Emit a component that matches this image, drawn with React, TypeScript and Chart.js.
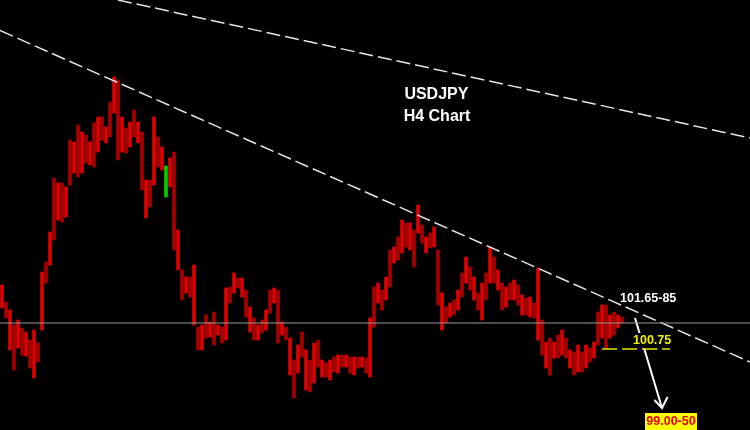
import React, { useEffect, useRef } from "react";
import { Chart, registerables } from "chart.js";

Chart.register(...registerables);

// H4 bars: high / low prices, one per bar (bar index = position)
const highs = [
  102.15, 101.98, 101.90, 101.75, 101.80, 101.72, 101.68, 101.60, 101.70, 101.57,
  102.28, 102.38, 102.68, 103.22, 103.17, 103.17, 103.13, 103.60, 103.58, 103.75,
  103.68, 103.65, 103.58, 103.77, 103.83, 103.83, 103.73, 103.98, 104.23, 104.20,
  103.83, 103.72, 103.78, 103.90, 103.78, 103.68, 103.20, 103.20, 103.83, 103.63,
  103.53, 103.34, 103.42, 103.48, 102.70, 102.30, 102.23, 102.23, 102.35, 101.73,
  101.75, 101.85, 101.78, 101.88, 101.75, 101.73, 102.12, 102.13, 102.27, 102.22,
  102.22, 102.10, 101.93, 101.82, 101.75, 101.80, 101.90, 102.10, 102.12, 102.10,
  101.78, 101.73, 101.62, 101.40, 101.55, 101.68, 101.50, 101.40, 101.57, 101.60,
  101.40, 101.37, 101.40, 101.43, 101.45, 101.45, 101.45, 101.43, 101.43, 101.43,
  101.43, 101.42, 101.82, 102.13, 102.17, 102.10, 102.23, 102.50, 102.53, 102.63,
  102.80, 102.77, 102.77, 102.70, 102.95, 102.75, 102.63, 102.67, 102.73, 102.50,
  102.07, 101.93, 101.97, 102.00, 102.10, 102.27, 102.43, 102.33, 102.23, 102.07,
  102.17, 102.27, 102.53, 102.43, 102.30, 102.17, 102.13, 102.17, 102.20, 102.15,
  102.05, 102.02, 102.03, 101.97, 102.32, 101.80, 101.58, 101.62, 101.58, 101.65,
  101.70, 101.62, 101.50, 101.48, 101.55, 101.48, 101.55, 101.52, 101.58, 101.88,
  101.95, 101.95, 101.85, 101.88, 101.85, 101.83,
];
const lows = [
  101.92, 101.82, 101.50, 101.30, 101.52, 101.45, 101.44, 101.32, 101.22, 101.38,
  101.70, 102.17, 102.35, 102.60, 102.80, 102.78, 102.83, 103.15, 103.27, 103.23,
  103.27, 103.37, 103.35, 103.33, 103.48, 103.60, 103.57, 103.63, 103.87, 103.40,
  103.48, 103.47, 103.53, 103.63, 103.57, 103.10, 102.82, 102.93, 103.15, 103.33,
  103.30, 103.03, 103.13, 102.50, 102.30, 102.00, 102.07, 102.03, 101.75, 101.50,
  101.50, 101.62, 101.63, 101.55, 101.65, 101.57, 101.60, 101.97, 102.07, 102.12,
  102.03, 101.83, 101.68, 101.60, 101.60, 101.67, 101.70, 101.87, 101.97, 101.57,
  101.65, 101.60, 101.25, 101.02, 101.27, 101.43, 101.10, 101.08, 101.17, 101.33,
  101.23, 101.23, 101.20, 101.28, 101.27, 101.33, 101.33, 101.27, 101.25, 101.32,
  101.33, 101.27, 101.23, 101.73, 101.97, 101.90, 102.00, 102.13, 102.37, 102.40,
  102.47, 102.53, 102.50, 102.33, 102.67, 102.57, 102.47, 102.52, 102.53, 101.95,
  101.70, 101.77, 101.83, 101.85, 101.90, 102.03, 102.17, 102.10, 102.00, 101.90,
  101.80, 102.00, 102.17, 102.17, 102.10, 101.90, 101.93, 102.00, 102.00, 101.95,
  101.85, 101.85, 101.83, 101.82, 101.60, 101.45, 101.32, 101.25, 101.42, 101.42,
  101.45, 101.42, 101.32, 101.25, 101.28, 101.28, 101.32, 101.38, 101.42, 101.55,
  101.62, 101.52, 101.62, 101.65, 101.72, 101.77,
];
// bars that closed up (drawn green)
const upBars = [41];

// drawn lines (x in bar units, y in price)
const mainTrend = [{ x: 0, y: 104.695 }, { x: 187.5, y: 101.38 }];
const upperTrend = [{ x: 29.5, y: 105.0 }, { x: 187.5, y: 103.62 }];
const pivotLevel = [{ x: 0, y: 101.77 }, { x: 187.5, y: 101.77 }];
const supportLevel = [{ x: 150.5, y: 101.51 }, { x: 167.5, y: 101.51 }];
const arrowShaft = [{ x: 158.75, y: 101.82 }, { x: 165.5, y: 100.92 }];
const arrowHead = [{ x: 163.6, y: 101.0 }, { x: 165.5, y: 100.92 }, { x: 166.9, y: 101.03 }];

const title = "USDJPY";
const subtitle = "H4 Chart";
const resistanceText = "101.65-85";
const supportText = "100.75";
const targetText = "99.00-50";

const labelPlugin = {
  id: "fxLabels",
  afterDatasetsDraw(chart: any) {
    const { ctx } = chart;
    const xs = chart.scales.x;
    const ys = chart.scales.y;
    const px = (v: number) => xs.getPixelForValue(v);
    const py = (v: number) => ys.getPixelForValue(v);
    ctx.save();
    ctx.textBaseline = "middle";
    ctx.fillStyle = "#ffffff";
    ctx.textAlign = "center";
    ctx.font = 'bold 16px "Liberation Sans", Arial, sans-serif';
    ctx.fillText(title, px(109.1), py(104.05));
    ctx.fillText(subtitle, px(109.25), py(103.83));

    ctx.textAlign = "left";
    ctx.font = 'bold 12.5px "Liberation Sans", Arial, sans-serif';
    ctx.fillStyle = "#ffffff";
    ctx.fillText(resistanceText, px(155), py(102.01));

    // support label on black box
    ctx.font = 'bold 12.5px "Liberation Sans", Arial, sans-serif';
    const sw = ctx.measureText(supportText).width;
    const sx = px(158.25);
    const sy = py(101.59);
    ctx.fillStyle = "#000000";
    ctx.fillRect(sx - 2, sy - 8, sw + 4, 15);
    ctx.fillStyle = "#f0f000";
    ctx.fillText(supportText, sx, sy);

    // target box
    const bx1 = px(161.25), bx2 = px(174.25);
    const by1 = py(100.87), by2 = py(100.70);
    ctx.fillStyle = "#ffff00";
    ctx.fillRect(bx1, by1, bx2 - bx1, by2 - by1);
    ctx.fillStyle = "#e00000";
    ctx.textAlign = "center";
    ctx.font = 'bold 12.5px "Liberation Sans", Arial, sans-serif';
    ctx.fillText(targetText, (bx1 + bx2) / 2, (by1 + by2) / 2 + 0.5);
    ctx.restore();
  },
};

export default function App() {
  const ref = useRef<HTMLCanvasElement | null>(null);

  useEffect(() => {
    if (!ref.current) return;
    const barData = highs.map((h, i) => ({ x: i + 0.5, y: [lows[i], h] }));
    const barColors = highs.map((_, i) =>
      upBars.includes(i) ? "#00d000" : i % 2 ? "#a80000" : "#dd0000"
    );
    const lineBase = {
      type: "line" as const,
      pointRadius: 0,
      fill: false,
      tension: 0,
      order: 1,
    };
    const chart = new Chart(ref.current, {
      type: "bar",
      data: {
        datasets: [
          {
            type: "bar",
            data: barData as any,
            backgroundColor: barColors,
            borderWidth: 0,
            barThickness: 3,
            grouped: false,
            order: 10,
          } as any,
          { ...lineBase, data: pivotLevel, borderColor: "#9a9a9a", borderWidth: 1 },
          { ...lineBase, data: mainTrend, borderColor: "#e6e6e6", borderWidth: 1.5, borderDash: [14, 5] },
          { ...lineBase, data: upperTrend, borderColor: "#e6e6e6", borderWidth: 1.5, borderDash: [14, 5] },
          { ...lineBase, data: supportLevel, borderColor: "#e6e600", borderWidth: 1.5, borderDash: [15, 5] },
          { ...lineBase, data: arrowShaft, borderColor: "#ffffff", borderWidth: 2 },
          { ...lineBase, data: arrowHead, borderColor: "#ffffff", borderWidth: 2 },
        ] as any,
      },
      options: {
        responsive: false,
        animation: false,
        devicePixelRatio: 1,
        events: [],
        layout: { padding: 0 },
        plugins: { legend: { display: false }, tooltip: { enabled: false }, title: { display: false } },
        scales: {
          x: { type: "linear", min: 0, max: 187.5, display: false, offset: false, grid: { offset: false } },
          y: { type: "linear", min: 100.7, max: 105.0, display: false },
        },
      },
      plugins: [labelPlugin],
    });
    return () => chart.destroy();
  }, []);

  return (
    <div style={{ position: "fixed", left: 0, top: 0, width: 750, height: 430, background: "#000" }}>
      <canvas ref={ref} width={750} height={430} style={{ display: "block" }} />
    </div>
  );
}
